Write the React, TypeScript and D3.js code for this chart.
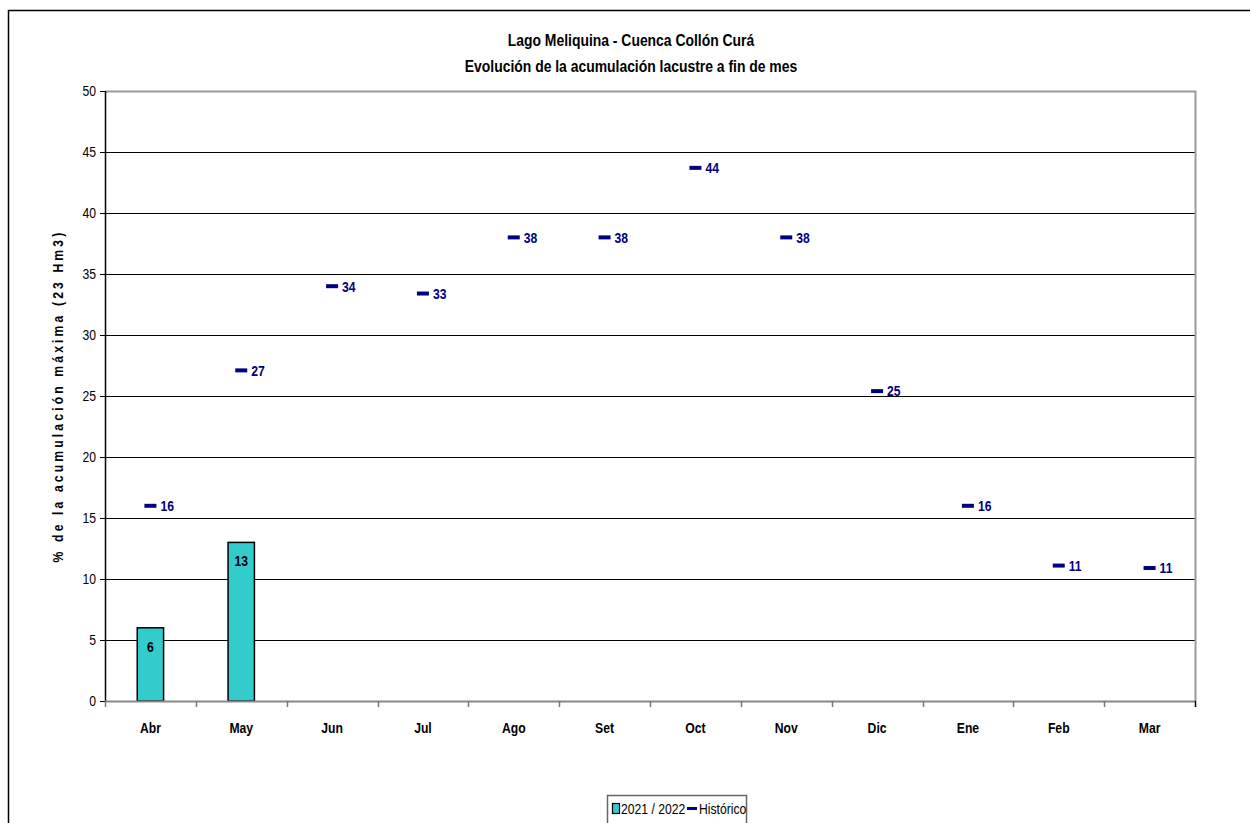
import React from "react";
import * as d3 from "d3";

const months = ["Abr", "May", "Jun", "Jul", "Ago", "Set", "Oct", "Nov", "Dic", "Ene", "Feb", "Mar"];
const actual2122: (number | null)[] = [6, 13, null, null, null, null, null, null, null, null, null, null];
const historico = [16, 27.1, 34, 33.4, 38, 38, 43.7, 38, 25.4, 16, 11.1, 10.9];
const yTicks = [0, 5, 10, 15, 20, 25, 30, 35, 40, 45, 50];

const W = 1250, H = 823;
const plot = { left: 105, right: 1195, top: 91, bottom: 701 };
const FONT = "'Liberation Sans', Arial, sans-serif";
const TEAL = "#33CCCC";
const NAVY = "#000080";
const SX = 0.87;

function T(props: { x: number; y: number; children: React.ReactNode; anchor?: string; size?: number; bold?: boolean; fill?: string; dy?: string }) {
  const { x, y, children, anchor = "start", size = 13, bold = false, fill = "#000", dy } = props;
  return (
    <text transform={`translate(${x},${y}) scale(${SX},1)`} textAnchor={anchor as any} fontSize={size} fontWeight={bold ? "bold" : "normal"} fill={fill} dy={dy}>
      {children}
    </text>
  );
}

export default function App() {
  const x = d3.scaleBand<string>().domain(months).range([plot.left, plot.right]).paddingInner(0).paddingOuter(0);
  const y = d3.scaleLinear().domain([0, 50]).range([plot.bottom, plot.top]);
  const bw = x.bandwidth();
  const barW = bw * 0.29;
  return (
    <svg width={W} height={H} style={{ position: "absolute", left: 0, top: 0 }} fontFamily={FONT}>
      <rect x={0} y={0} width={W} height={H} fill="#fff" />
      <path d={`M8.5,${H} V10.5 H${W}`} fill="none" stroke="#000" strokeWidth={1.5} />
      <T x={631} y={46} anchor="middle" size={16} bold>Lago Meliquina - Cuenca Collón Curá</T>
      <T x={631} y={72} anchor="middle" size={16} bold>Evolución de la acumulación lacustre a fin de mes</T>
      {yTicks.filter(t => t > 0 && t < 50).map(t => (
        <line key={t} x1={plot.left} x2={plot.right} y1={Math.round(y(t)) + 0.5} y2={Math.round(y(t)) + 0.5} stroke="#000" strokeWidth={1} />
      ))}
      <path d={`M${plot.left},${plot.top + 0.5} H${plot.right + 0.5} V${plot.bottom}`} fill="none" stroke="#999" strokeWidth={2} />
      <line x1={plot.left + 0.5} x2={plot.left + 0.5} y1={plot.top} y2={plot.bottom + 1} stroke="#000" strokeWidth={1.5} />
      {yTicks.map(t => (
        <g key={t}>
          <line x1={plot.left - 5} x2={plot.left} y1={Math.round(y(t)) + 0.5} y2={Math.round(y(t)) + 0.5} stroke="#000" />
          <T x={plot.left - 9} y={y(t)} dy="0.35em" anchor="end" size={14}>{t}</T>
        </g>
      ))}
      {actual2122.map((v, i) => v == null ? null : (
        <g key={"b" + i}>
          <rect x={(x(months[i]) as number) + bw / 2 - barW / 2} y={y(v)} width={barW} height={plot.bottom - y(v)} fill={TEAL} stroke="#000" strokeWidth={1.5} />
          <T x={(x(months[i]) as number) + bw / 2} y={y(v) + 24} anchor="middle" size={14} bold>{Math.round(v)}</T>
        </g>
      ))}
      <line x1={plot.left} x2={plot.right + 1} y1={plot.bottom + 0.5} y2={plot.bottom + 0.5} stroke="#888" strokeWidth={2} />
      {months.map((m, i) => (
        <line key={"t" + i} x1={Math.round(x(m) as number) + 0.5} x2={Math.round(x(m) as number) + 0.5} y1={plot.bottom} y2={plot.bottom + 6} stroke="#777" strokeWidth={1.5} />
      ))}
      <line x1={plot.right + 0.5} x2={plot.right + 0.5} y1={plot.bottom} y2={plot.bottom + 6} stroke="#000" strokeWidth={1.5} />
      {months.map(m => (
        <T key={"l" + m} x={(x(m) as number) + bw / 2} y={733} anchor="middle" size={14} bold>{m}</T>
      ))}
      {historico.map((v, i) => {
        const cx = (x(months[i]) as number) + bw / 2;
        return (
          <g key={"h" + i}>
            <line x1={cx - 6} x2={cx + 6} y1={y(v)} y2={y(v)} stroke={NAVY} strokeWidth={4} />
            <T x={cx + 10} y={y(v)} dy="0.38em" size={14} bold fill={NAVY}>{Math.round(v)}</T>
          </g>
        );
      })}
      <text transform={`translate(63,${(plot.top + plot.bottom) / 2}) rotate(-90) scale(${SX},1)`} textAnchor="middle" fontSize={14} fontWeight="bold" letterSpacing={3.6}>% de la acumulación máxima (23 Hm3)</text>
      <rect x={607.5} y={795.5} width={139} height={40} fill="#fff" stroke="#666" strokeWidth={1.5} />
      <rect x={612.5} y={803.5} width={7} height={10} fill={TEAL} stroke="#000" strokeWidth={1.2} />
      <T x={621} y={814} size={14}>2021 / 2022</T>
      <line x1={687} x2={697} y1={808.5} y2={808.5} stroke={NAVY} strokeWidth={3} />
      <T x={699} y={814} size={14}>Histórico</T>
    </svg>
  );
}
